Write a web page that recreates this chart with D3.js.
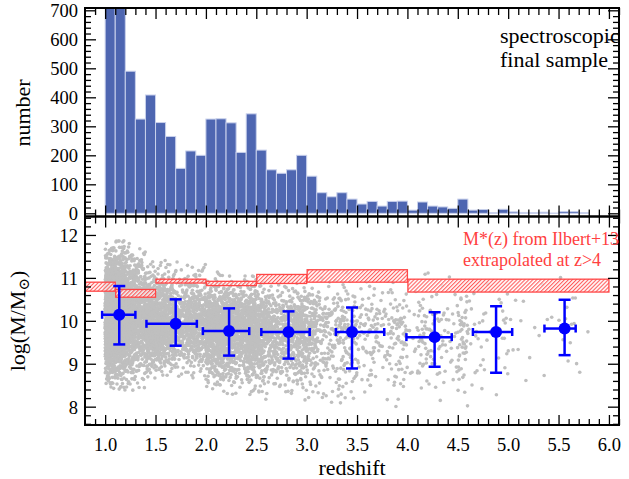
<!DOCTYPE html>
<html>
<head>
<meta charset="UTF-8">
<title>Redshift vs stellar mass</title>
<script src="https://d3js.org/d3.v7.min.js"></script>
<style>
  body { margin: 0; padding: 0; background: #fff; }
  svg text { font-family: "Liberation Serif", "Times New Roman", "DejaVu Serif", serif; }
</style>
</head>
<body>
<div id="chart"></div>
<script>
// histogram of spectroscopic redshifts (bin left edges, width 0.1)
const binStart = [1.0, 1.1, 1.2, 1.3, 1.4, 1.5, 1.6, 1.7, 1.8, 1.9,
                  2.0, 2.1, 2.2, 2.3, 2.4, 2.5, 2.6, 2.7, 2.8, 2.9,
                  3.0, 3.1, 3.2, 3.3, 3.4, 3.5, 3.6, 3.7, 3.8, 3.9,
                  4.0, 4.1, 4.2, 4.3, 4.4, 4.5, 4.6, 4.7, 4.8, 4.9,
                  5.0, 5.1, 5.2, 5.3, 5.4, 5.5, 5.6, 5.7];
const counts = [1000, 900, 490, 325, 408, 313, 265, 155, 215, 200,
                325, 326, 312, 210, 343, 218, 150, 138, 150, 200,
                128, 71, 57, 71, 49, 32, 41, 25, 41, 42,
                11, 39, 25, 22, 17, 49, 11, 13, 2, 14,
                5, 3, 2, 4, 1, 6, 6, 2];
const binWidth = 0.1;

// median stellar mass per redshift bin with errors
const medZ   = [1.14, 1.70, 2.23, 2.82, 3.45, 4.27, 4.88, 5.56];
const medZlo = [0.97, 1.41, 1.97, 2.55, 3.29, 3.99, 4.65, 5.36];
const medZhi = [1.30, 1.91, 2.43, 3.03, 3.77, 4.44, 5.04, 5.67];
const medM   = [10.14, 9.93, 9.76, 9.74, 9.74, 9.62, 9.74, 9.82];
const medMlo = [9.45, 9.42, 9.19, 9.12, 8.89, 8.93, 8.79, 9.20];
const medMhi = [10.81, 10.50, 10.29, 10.22, 10.31, 10.20, 10.34, 10.49];

// M*(z) from Ilbert+13
const mstarZlo = [0.8, 1.1, 1.5, 2.0, 2.5, 3.0, 4.0];
const mstarZhi = [1.1, 1.5, 2.0, 2.5, 3.0, 4.0, 6.0];
const mstarLo  = [10.69, 10.55, 10.88, 10.82, 10.87, 10.90, 10.67];
const mstarHi  = [10.90, 10.73, 10.97, 10.92, 11.08, 11.19, 10.97];

const xMajor = [1.0, 1.5, 2.0, 2.5, 3.0, 3.5, 4.0, 4.5, 5.0, 5.5, 6.0];
const nMajor = [0, 100, 200, 300, 400, 500, 600, 700];
const mMajor = [8, 9, 10, 11, 12];

const W = 629, H = 479;
const L = 85, R = 619, T = 8, MID = 216.5, B = 425;
const FONT = '"Liberation Serif", "Times New Roman", "DejaVu Serif", serif';

const svg = d3.select("#chart").append("svg").attr("width", W).attr("height", H)
  .attr("font-family", FONT);

const x = d3.scaleLinear().domain([0.8, 6.1]).range([L, R]);
const yN = d3.scaleLinear().domain([-11, 708]).range([MID, T]);
const yM = d3.scaleLinear().domain([7.573, 12.43]).range([B, MID]);

const defs = svg.append("defs");
defs.append("clipPath").attr("id", "clipTop")
  .append("rect").attr("x", L).attr("y", T).attr("width", R - L).attr("height", MID - T);
defs.append("clipPath").attr("id", "clipBot")
  .append("rect").attr("x", L).attr("y", MID).attr("width", R - L).attr("height", B - MID);
const hs = 2.8;
const pat = defs.append("pattern").attr("id", "hatch")
  .attr("patternUnits", "userSpaceOnUse").attr("width", hs).attr("height", hs)
  .attr("patternTransform", "rotate(45)");
pat.append("rect").attr("width", hs).attr("height", hs).attr("fill", "#fff").attr("fill-opacity", 0.7);
pat.append("line").attr("x1", 0.6).attr("y1", 0).attr("x2", 0.6).attr("y2", hs)
  .attr("stroke", "#ff4646").attr("stroke-width", 1);

// ---- top panel: histogram
svg.append("g").attr("clip-path", "url(#clipTop)")
  .selectAll("rect").data(counts).join("rect")
  .attr("x", (d, i) => x(binStart[i]))
  .attr("width", (d, i) => x(binStart[i] + binWidth) - x(binStart[i]))
  .attr("y", d => yN(d))
  .attr("height", d => yN(0) - yN(d))
  .attr("fill", "#4e66b1")
  .attr("stroke", "#c9d1ec")
  .attr("stroke-width", 1);

// ---- bottom panel: individual galaxies
// each histogram bin is filled with its number of galaxies, spread in mass
// around the median of the nearest redshift bin (quasi-random halton placement)
function halton(i, b) {
  let f = 1, r = 0;
  while (i > 0) { f /= b; r += f * (i % b); i = Math.floor(i / b); }
  return r;
}
const pts = [];
let k = 1;
counts.forEach((n, i) => {
  const zc = binStart[i] + binWidth / 2;
  const j = d3.minIndex(medZ, z => Math.abs(z - zc));
  const sLo = medM[j] - medMlo[j], sHi = medMhi[j] - medM[j];
  let placed = 0;
  while (placed < n) {
    const u1 = halton(k, 3), u2 = halton(k, 5), u3 = halton(k, 2);
    k++;
    if (u1 <= 0) continue;
    const g = Math.sqrt(-2 * Math.log(u1)) * Math.cos(2 * Math.PI * u2);
    if (Math.abs(g) > 2.6) continue;
    const m = medM[j] + g * (g < 0 ? sLo : sHi);
    if (m < 8.0 || m > 12.0) continue;
    pts.push([binStart[i] + binWidth * u3, m]);
    placed++;
  }
});
svg.append("g").attr("clip-path", "url(#clipBot)")
  .selectAll("circle").data(pts).join("circle")
  .attr("cx", d => x(d[0])).attr("cy", d => yM(d[1]))
  .attr("r", 1.8).attr("fill", "#bfbfbf");

// M* boxes
svg.append("g").selectAll("rect").data(mstarLo).join("rect")
  .attr("x", (d, i) => x(mstarZlo[i]) + 0.5)
  .attr("width", (d, i) => x(mstarZhi[i]) - x(mstarZlo[i]) - 0.5)
  .attr("y", (d, i) => yM(mstarHi[i]))
  .attr("height", (d, i) => yM(d) - yM(mstarHi[i]))
  .attr("fill", "url(#hatch)")
  .attr("stroke", "#ff4646").attr("stroke-width", 1.3);

// medians with error bars
const eb = svg.append("g").attr("stroke", "#0000ff").attr("stroke-width", 2.5).attr("fill", "none");
medZ.forEach((z, i) => {
  const cx = x(z), cy = yM(medM[i]);
  eb.append("line").attr("x1", x(medZlo[i])).attr("x2", x(medZhi[i])).attr("y1", cy).attr("y2", cy);
  eb.append("line").attr("x1", cx).attr("x2", cx).attr("y1", yM(medMlo[i])).attr("y2", yM(medMhi[i]));
  [medZlo[i], medZhi[i]].forEach(zz => eb.append("line")
    .attr("x1", x(zz)).attr("x2", x(zz)).attr("y1", cy - 4).attr("y2", cy + 4));
  [medMlo[i], medMhi[i]].forEach(mm => eb.append("line")
    .attr("x1", cx - 6).attr("x2", cx + 6).attr("y1", yM(mm)).attr("y2", yM(mm)));
});
svg.append("g").selectAll("circle").data(medM).join("circle")
  .attr("cx", (d, i) => x(medZ[i])).attr("cy", d => yM(d))
  .attr("r", 6).attr("fill", "#0000ff");

// ---- axes (inward ticks on all sides)
const xMinor = d3.range(9, 62).map(v => v / 10).filter(v => Math.abs(v * 2 - Math.round(v * 2)) > 1e-6);
const nMinor = d3.range(0, 701, 20).filter(v => v % 100);
const mMinor = d3.range(38, 63).map(v => v / 5).filter(v => Math.abs(v - Math.round(v)) > 1e-6);

function ticks(axis, vals, size, labels) {
  return axis.tickValues(vals).tickSize(size).tickSizeOuter(0)
    .tickFormat(labels ? labels : () => "");
}
function addAxis(gen, tx, ty) {
  const g = svg.append("g").attr("transform", `translate(${tx},${ty})`).call(gen);
  g.attr("font-family", FONT);
  g.select(".domain").remove();
  g.selectAll(".tick line").attr("stroke", "#000").attr("stroke-width", 1.3);
  g.selectAll("text").attr("font-size", 18.5).attr("fill", "#000");
  return g;
}
// x axes
addAxis(ticks(d3.axisBottom(x), xMajor, -10, d3.format(".1f")), 0, B).selectAll("text").attr("dy", "1.22em");
addAxis(ticks(d3.axisBottom(x), xMinor, -6), 0, B);
addAxis(ticks(d3.axisTop(x), xMajor, -11), 0, MID);
addAxis(ticks(d3.axisTop(x), xMinor, -7), 0, MID);
addAxis(ticks(d3.axisBottom(x), xMajor, -11), 0, MID);
addAxis(ticks(d3.axisBottom(x), xMinor, -7), 0, MID);
addAxis(ticks(d3.axisTop(x), xMajor, -11), 0, T);
addAxis(ticks(d3.axisTop(x), xMinor, -7), 0, T);
// y axes top
addAxis(ticks(d3.axisLeft(yN), nMajor, -11, d3.format("d")), L, 0).selectAll("text").attr("x", -7).attr("dy", "0.36em");
addAxis(ticks(d3.axisLeft(yN), nMinor, -6), L, 0);
addAxis(ticks(d3.axisRight(yN), nMajor, -11), R, 0);
addAxis(ticks(d3.axisRight(yN), nMinor, -6), R, 0);
// y axes bottom
addAxis(ticks(d3.axisLeft(yM), mMajor, -11, d3.format("d")), L, 0).selectAll("text").attr("x", -7).attr("dy", "0.36em");
addAxis(ticks(d3.axisLeft(yM), mMinor, -6), L, 0);
addAxis(ticks(d3.axisRight(yM), mMajor, -11), R, 0);
addAxis(ticks(d3.axisRight(yM), mMinor, -6), R, 0);

// frames
svg.append("rect").attr("x", L).attr("y", T).attr("width", R - L).attr("height", B - T)
  .attr("fill", "none").attr("stroke", "#000").attr("stroke-width", 2);
svg.append("line").attr("x1", L).attr("x2", R).attr("y1", MID).attr("y2", MID)
  .attr("stroke", "#000").attr("stroke-width", 2.5);

// ---- labels
svg.append("text").attr("x", (L + R) / 2).attr("y", 475).attr("text-anchor", "middle")
  .attr("font-size", 22).text("redshift");
svg.append("text").attr("transform", "translate(30,113) rotate(-90)").attr("text-anchor", "middle")
  .attr("font-size", 22).text("number");
const ml = svg.append("text").attr("transform", "translate(25,321) rotate(-90)").attr("text-anchor", "middle")
  .attr("font-size", 22);
ml.append("tspan").text("log(M/M");
ml.append("tspan").attr("font-size", 15).attr("dy", 4).text("\u2299");
ml.append("tspan").attr("dy", -4).text(")");

svg.append("text").attr("x", 500).attr("y", 43).attr("font-size", 22).text("spectroscopic");
svg.append("text").attr("x", 500).attr("y", 67).attr("font-size", 22).text("final sample");

svg.append("text").attr("x", 463).attr("y", 245).attr("font-size", 18).attr("fill", "#ff4040")
  .text("M*(z) from Ilbert+13");
svg.append("text").attr("x", 463).attr("y", 266).attr("font-size", 18).attr("fill", "#ff4040")
  .text("extrapolated at z>4");
</script>
</body>
</html>
